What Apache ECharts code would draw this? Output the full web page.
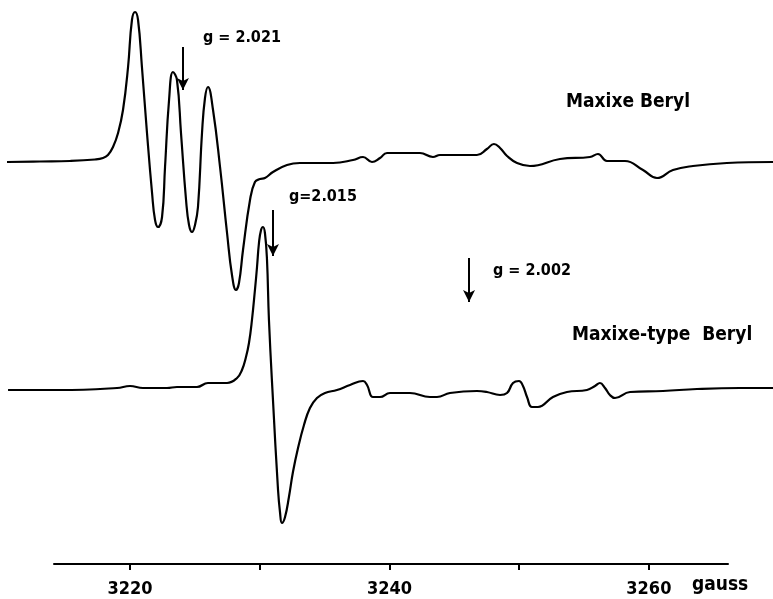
<!DOCTYPE html>
<html>
<head>
<meta charset="utf-8">
<script src="https://cdn.jsdelivr.net/npm/echarts@6/dist/echarts.min.js"></script>
<style>html,body{margin:0;padding:0;background:#fff;}#c{width:773px;height:599px;}</style>
</head>
<body>
<div id="c"></div>
<script>
// Magnetic field (gauss) and signal amplitude (arbitrary units) for each spectrum
var maxixeField = [3210.52,3213.06,3215.38,3217.30,3217.92,3218.30,3218.69,3219.08,3219.46,3219.85,3220.15,3220.39,3220.62,3220.92,3221.31,3221.70,3221.93,3222.16,3222.47,3222.70,3223.01,3223.31,3223.62,3223.93,3224.32,3224.55,3224.78,3225.01,3225.24,3225.55,3225.78,3226.01,3226.40,3226.94,3227.48,3227.86,3228.17,3228.40,3228.71,3229.25,3229.63,3230.02,3230.40,3231.02,3232.10,3233.10,3235.65,3237.19,3237.96,3238.65,3239.27,3239.81,3242.35,3243.35,3243.89,3246.74,3247.51,3248.05,3248.52,3249.06,3249.83,3250.83,3253.14,3255.45,3256.07,3256.76,3258.15,3259.54,3260.62,3261.85,3263.39,3266.01,3269.56];
var maxixeSignal = [-2,-1.5,-1,0.5,2,5,13,27,50,93,140,148,140,93,27,-33,-60,-67,-57,-7,60,88,80,27,-40,-65,-72,-65,-47,27,62,73,50,-7,-73,-115,-130,-123,-90,-40,-22,-19,-18,-12,-5,-3,-3,0,3,-2,2,7,7,3,5,5,11,16,12,4,-3,-6,1,3,6,-1,-1,-10,-18,-10,-6,-3,-2];

var typeField = [3210.60,3214.61,3219.00,3220.00,3221.00,3222.85,3223.62,3225.16,3226.01,3227.48,3228.25,3228.63,3228.94,3229.17,3229.40,3229.63,3229.79,3229.94,3230.10,3230.25,3230.40,3230.56,3230.71,3231.02,3231.41,3231.56,3231.71,3231.95,3232.25,3232.56,3232.95,3233.41,3233.87,3234.41,3235.03,3235.95,3236.96,3237.96,3238.27,3238.73,3239.27,3240.04,3241.58,3243.12,3243.66,3244.66,3246.74,3247.51,3248.52,3249.06,3249.52,3249.98,3250.29,3250.60,3250.98,3251.44,3252.60,3253.68,3255.22,3255.84,3256.22,3256.61,3256.99,3257.38,3258.54,3261.08,3263.70,3267.01,3269.56];
var typeSignal = [0,0,2,4,2,2,3,3,7,7,12,20,33,47,70,100,123,147,160,163,157,130,70,-10,-100,-122,-133,-127,-107,-82,-58,-35,-18,-8,-3,0,5,9,5,-7,-7,-3,-3,-7,-7,-3,-1,-2,-5,-3,7,9,4,-7,-17,-17,-7,-2,0,4,7,2,-5,-8,-2,-1,1,2,2];

// vertical offsets (stacking of the two traces)
var maxixeOffset = 404;
var typeOffset = 174;

// tick marks and labels
var tickValues = [3220,3230,3240,3250,3260];
var labelValues = [3220,3240,3260];

// g-value markers: [field, yStart, yEnd]
var gMarkers = [[3224.08,517,474],[3231.02,354,308],[3246.13,306,262]];

function build(xs, ys, off){ var d=[]; for(var i=0;i<xs.length;i++){ d.push([xs[i], ys[i]+off]); } return d; }

var font = '"DejaVu Sans Condensed","DejaVu Sans",sans-serif';
var chart = echarts.init(document.getElementById('c'));
var txt = function(x,y,s,fs){ return {type:'text', left:x, top:y, silent:true, style:{text:s, fill:'#000', font:'bold '+fs+'px '+font}}; };

chart.setOption({
  animation:false,
  backgroundColor:'#fff',
  grid:[
    {left:0, right:0, top:0, bottom:35, containLabel:false},
    {left:54, right:45, top:0, bottom:35, containLabel:false}
  ],
  xAxis:[
    {type:'value', gridIndex:0, min:3209.98, max:3269.56, show:false},
    {type:'value', gridIndex:1, min:3214.14, max:3266.1,
     axisLine:{show:true, lineStyle:{color:'#000', width:2}},
     axisTick:{show:true, customValues:tickValues, length:6, lineStyle:{color:'#000', width:2}},
     axisLabel:{show:true, customValues:labelValues, margin:16, color:'#000', fontSize:18, fontWeight:'bold', fontFamily:font,
                formatter:function(v){ return String(v); }},
     splitLine:{show:false}}
  ],
  yAxis:[
    {type:'value', gridIndex:0, min:0, max:564, show:false},
    {type:'value', gridIndex:1, min:0, max:564, show:false}
  ],
  series:[
    {type:'line', xAxisIndex:0, yAxisIndex:0, data:build(maxixeField, maxixeSignal, maxixeOffset), showSymbol:false, smooth:0.45,
     lineStyle:{color:'#000', width:2.2}},
    {type:'line', xAxisIndex:0, yAxisIndex:0, data:build(typeField, typeSignal, typeOffset), showSymbol:false, smooth:0.45,
     lineStyle:{color:'#000', width:2.2},
     markLine:{silent:true, symbol:['none','arrow'], symbolSize:[9,12], label:{show:false},
       lineStyle:{color:'#000', width:2, type:'solid'},
       data:gMarkers.map(function(m){ return [{coord:[m[0],m[1]]},{coord:[m[0],m[2]]}]; })}}
  ],
  graphic:[
    txt(203,30,'g = 2.021',16),
    txt(289,189,'g=2.015',16),
    txt(493,263,'g = 2.002',16),
    txt(566,93,'Maxixe Beryl',19),
    txt(572,326,'Maxixe-type  Beryl',19),
    txt(692,576,'gauss',19)
  ]
});
</script>
</body>
</html>
